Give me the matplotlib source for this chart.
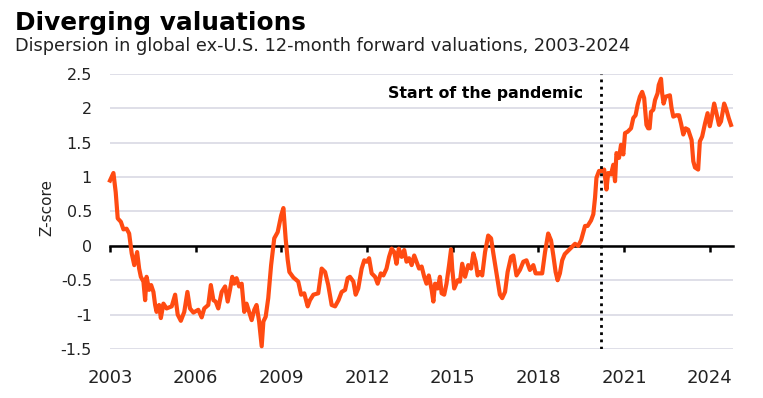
import matplotlib
matplotlib.use("Agg")
import matplotlib.pyplot as plt

# ── Data (decimal year, z-score) ──
years = [
    2003.00, 2003.12, 2003.20, 2003.27, 2003.38, 2003.47, 2003.58, 2003.67, 2003.76, 2003.85,
    2003.95, 2004.02, 2004.08, 2004.17, 2004.23, 2004.28, 2004.37, 2004.44, 2004.52, 2004.58,
    2004.63, 2004.72, 2004.78, 2004.87, 2004.98, 2005.16, 2005.28, 2005.37, 2005.48, 2005.60,
    2005.71, 2005.80, 2005.92, 2006.09, 2006.21, 2006.30, 2006.44, 2006.53, 2006.62, 2006.70,
    2006.79, 2006.91, 2007.03, 2007.12, 2007.20, 2007.28, 2007.35, 2007.43, 2007.52, 2007.61,
    2007.70, 2007.78, 2007.87, 2007.96, 2008.05, 2008.13, 2008.22, 2008.31, 2008.37, 2008.45,
    2008.54, 2008.64, 2008.75, 2008.87, 2008.99, 2009.07, 2009.15, 2009.22, 2009.28, 2009.42,
    2009.59, 2009.69, 2009.80, 2009.92, 2010.00, 2010.12, 2010.29, 2010.41, 2010.53, 2010.64,
    2010.76, 2010.88, 2011.00, 2011.11, 2011.23, 2011.32, 2011.40, 2011.52, 2011.60, 2011.69,
    2011.81, 2011.90, 2011.99, 2012.07, 2012.16, 2012.28, 2012.37, 2012.48, 2012.57, 2012.68,
    2012.77, 2012.86, 2012.95, 2013.03, 2013.11, 2013.21, 2013.30, 2013.38, 2013.47, 2013.56,
    2013.65, 2013.73, 2013.82, 2013.91, 2014.00, 2014.08, 2014.16, 2014.26, 2014.32, 2014.38,
    2014.47, 2014.55, 2014.61, 2014.70, 2014.78, 2014.87, 2014.94, 2014.98, 2015.05, 2015.17,
    2015.25, 2015.33, 2015.43, 2015.54, 2015.64, 2015.72, 2015.80, 2015.87, 2015.95, 2016.03,
    2016.13, 2016.24, 2016.34, 2016.42, 2016.53, 2016.65, 2016.73, 2016.83, 2016.92, 2017.04,
    2017.12, 2017.23, 2017.35, 2017.47, 2017.58, 2017.70, 2017.82, 2017.90, 2018.02, 2018.13,
    2018.23, 2018.34, 2018.44, 2018.52, 2018.60, 2018.67, 2018.75, 2018.83, 2018.92, 2019.04,
    2019.16, 2019.28, 2019.39, 2019.49, 2019.57, 2019.63, 2019.72, 2019.84, 2019.92, 2019.98,
    2020.03, 2020.12, 2020.21, 2020.30, 2020.38, 2020.44, 2020.54, 2020.62, 2020.68, 2020.73,
    2020.82, 2020.89, 2020.97, 2021.03, 2021.12, 2021.24, 2021.32, 2021.40, 2021.47, 2021.55,
    2021.63, 2021.70, 2021.78, 2021.84, 2021.89, 2021.94, 2022.02, 2022.08, 2022.17, 2022.21,
    2022.29, 2022.33, 2022.38, 2022.45, 2022.60, 2022.66, 2022.72, 2022.83, 2022.92, 2022.99,
    2023.07, 2023.15, 2023.24, 2023.36, 2023.42, 2023.48, 2023.59, 2023.65, 2023.73, 2023.83,
    2023.92, 2024.00, 2024.06, 2024.15, 2024.23, 2024.32, 2024.39, 2024.50, 2024.58, 2024.66,
    2024.74,
]
zscore = [
    0.95, 1.06, 0.78, 0.40, 0.35, 0.24, 0.25, 0.18, -0.11, -0.28,
    -0.09, -0.33, -0.45, -0.52, -0.79, -0.45, -0.64, -0.57, -0.67, -0.86,
    -0.96, -0.86, -1.05, -0.84, -0.91, -0.88, -0.71, -1.00, -1.09, -0.96,
    -0.67, -0.91, -0.97, -0.93, -1.04, -0.91, -0.86, -0.57, -0.79, -0.81,
    -0.91, -0.67, -0.59, -0.81, -0.64, -0.45, -0.55, -0.47, -0.59, -0.55,
    -0.96, -0.84, -0.96, -1.08, -0.93, -0.86, -1.10, -1.46, -1.10, -1.03,
    -0.76, -0.28, 0.11, 0.20, 0.44, 0.55, 0.10, -0.20, -0.38, -0.46,
    -0.52, -0.71, -0.69, -0.88, -0.79, -0.71, -0.69, -0.33, -0.38, -0.57,
    -0.86, -0.88, -0.79, -0.67, -0.64, -0.47, -0.45, -0.52, -0.71, -0.62,
    -0.33, -0.21, -0.23, -0.18, -0.40, -0.45, -0.55, -0.40, -0.43, -0.33,
    -0.16, -0.04, -0.09, -0.26, -0.04, -0.16, -0.06, -0.23, -0.18, -0.28,
    -0.14, -0.23, -0.33, -0.30, -0.45, -0.55, -0.43, -0.64, -0.81, -0.55,
    -0.62, -0.45, -0.69, -0.71, -0.55, -0.28, -0.05, -0.33, -0.62, -0.50,
    -0.52, -0.26, -0.45, -0.28, -0.33, -0.11, -0.23, -0.43, -0.38, -0.43,
    -0.09, 0.15, 0.11, -0.11, -0.40, -0.71, -0.76, -0.67, -0.38, -0.16,
    -0.14, -0.43, -0.35, -0.23, -0.21, -0.35, -0.28, -0.40, -0.40, -0.40,
    -0.09, 0.18, 0.08, -0.14, -0.38, -0.50, -0.40, -0.21, -0.12, -0.07,
    -0.02, 0.03, 0.00, 0.08, 0.20, 0.29, 0.29, 0.37, 0.46, 0.70,
    0.99, 1.09, 1.09, 1.11, 0.82, 1.06, 1.04, 1.18, 0.94, 1.35,
    1.28, 1.47, 1.33, 1.64, 1.66, 1.71, 1.86, 1.90, 2.05, 2.17,
    2.24, 2.15, 1.76, 1.71, 1.71, 1.95, 1.98, 2.12, 2.22, 2.34,
    2.43, 2.22, 2.07, 2.17, 2.19, 2.00, 1.88, 1.90, 1.90, 1.78,
    1.62, 1.71, 1.69, 1.54, 1.23, 1.14, 1.11, 1.52, 1.59, 1.78,
    1.93, 1.74, 1.86, 2.07, 1.93, 1.76, 1.81, 2.07, 1.98, 1.86,
    1.76,
]
y_ticks = [-1.5, -1, -0.5, 0, 0.5, 1, 1.5, 2, 2.5]
y_tick_labels = ['-1.5', '-1', '-0.5', '0', '0.5', '1', '1.5', '2', '2.5']
x_ticks = [2003, 2006, 2009, 2012, 2015, 2018, 2021, 2024]
pandemic_start = 2020.2

fig = plt.figure(figsize=(7.63, 3.98), dpi=100)
ax = fig.add_axes([110 / 763, 1 - 349 / 398, 623 / 763, 275 / 398])

ax.set_xlim(2003, 2024.81)
ax.set_ylim(-1.5, 2.5)

# gridlines
ax.set_yticks(y_ticks)
ax.set_yticklabels(y_tick_labels)
ax.grid(axis='y', color='#dcdce6', lw=1.3)
ax.set_axisbelow(True)
ax.tick_params(axis='y', length=0, pad=13, labelsize=11.5, colors='#222222')

# zero line as bottom spine with year ticks
for s in ['top', 'right', 'left']:
    ax.spines[s].set_visible(False)
ax.spines['bottom'].set_position(('data', 0))
ax.spines['bottom'].set_linewidth(1.8)
ax.spines['bottom'].set_color('black')
ax.set_xticks(x_ticks)
ax.tick_params(axis='x', direction='out', length=4, width=1.8, labelbottom=False)
for yr in x_ticks:
    ax.text(yr, -0.105, str(yr), transform=ax.get_xaxis_transform(),
            ha='center', va='center', fontsize=13, color='#222222')

ax.plot(years, zscore, color='#ff4b12', lw=3, solid_joinstyle='round', clip_on=False, zorder=3)

ax.axvline(pandemic_start, color='black', lw=2, ls=(0, (1, 1.6)), zorder=4)
ax.text(pandemic_start - 0.65, 2.22, 'Start of the pandemic', ha='right', va='center',
        fontsize=11.3, fontweight='bold', color='black')

fig.text(47 / 763, 1 - 207 / 398, 'Z-score', rotation=90, ha='center', va='center',
         fontsize=11, color='#222222')
fig.text(15 / 763, 1 - 23 / 398, 'Diverging valuations', ha='left', va='center',
         fontsize=17.8, fontweight='heavy', color='black')
fig.text(15 / 763, 1 - 46 / 398, 'Dispersion in global ex-U.S. 12-month forward valuations, 2003-2024',
         ha='left', va='center', fontsize=12.8, color='#222222')

fig.savefig('out.png', dpi=100)
